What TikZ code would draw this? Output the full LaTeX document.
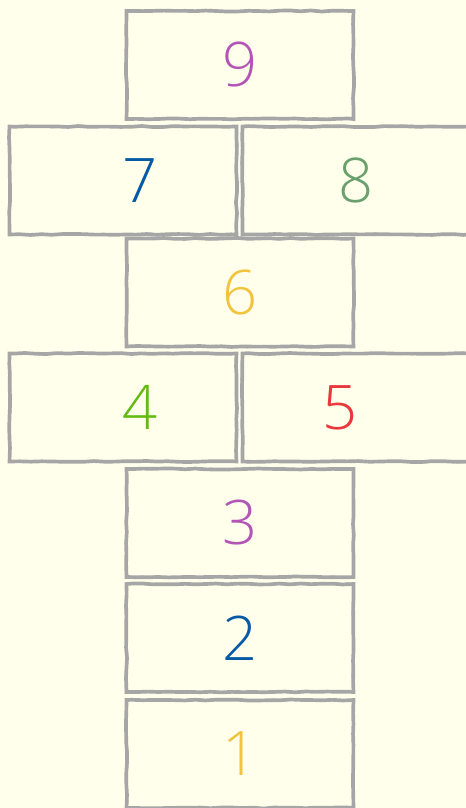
\documentclass[tikz,border=0pt]{standalone}
\usepackage{fontspec}
\IfFontExistsTF{Open Sans Light}{\setmainfont{Open Sans Light}}{\setmainfont{Open Sans}}
\usepackage{tikz}
\usetikzlibrary{positioning, decorations.pathmorphing}
\definecolor{mybg}{RGB}{255,255,235}
\definecolor{mygrey}{RGB}{166,166,166}
\definecolor{mypurple}{RGB}{178,85,182}
\definecolor{myblue}{RGB}{5,90,165}
\definecolor{mysage}{RGB}{105,160,110}
\definecolor{myyellow}{RGB}{242,195,60}
\definecolor{mygreen}{RGB}{100,185,20}
\definecolor{myred}{RGB}{232,56,60}
\tikzset{
  square/.style={rectangle, draw=mygrey, line width=2.1pt,
    minimum width=4.54cm, minimum height=2.16cm, inner sep=0pt,
    decorate, decoration={random steps, segment length=6pt, amplitude=0.3pt},
    postaction={draw=mygrey, line width=0.9pt, decorate,
      decoration={random steps, segment length=3pt, amplitude=0.6pt}}},
  digit/.style={font=\fontsize{35}{40}\selectfont, inner sep=0pt}
}

\begin{document}
\begin{tikzpicture}[x=0.02cm, y=-0.02cm]
  \pgfmathsetseed{7}
  \fill[mybg] (0,0) rectangle (466,808);
  \useasboundingbox (0,0) rectangle (466,808);
  \clip (0,0) rectangle (466,808);

  % the squares, top to bottom
  \node[square] (sq9) at (240,65) {};
  \node[square] (sq7) at (123,180.5) {};
  \node[square] (sq8) at (356,180.5) {};
  \node[square] (sq6) at (240,292.5) {};
  \node[square] (sq4) at (123,407.5) {};
  \node[square] (sq5) at (356,407.5) {};
  \node[square] (sq3) at (240,523) {};
  \node[square] (sq2) at (240,638) {};
  \node[square] (sq1) at (240,754) {};

  % numbers
  \node[digit, text=mypurple] (n9) at (sq9) {9};
  \node[digit, text=myblue, xshift=0.34cm] (n7) at (sq7) {7};
  \node[digit, text=mysage] (n8) at (sq8) {8};
  \node[digit, text=myyellow] (n6) at (sq6) {6};
  \node[digit, text=mygreen, xshift=0.34cm] (n4) at (sq4) {4};
  \node[digit, text=myred, xshift=-0.32cm] (n5) at (sq5) {5};
  \node[digit, text=mypurple] (n3) at (sq3) {3};
  \node[digit, text=myblue] (n2) at (sq2) {2};
  \node[digit, text=myyellow] (n1) at (sq1) {1};
\end{tikzpicture}
\end{document}
